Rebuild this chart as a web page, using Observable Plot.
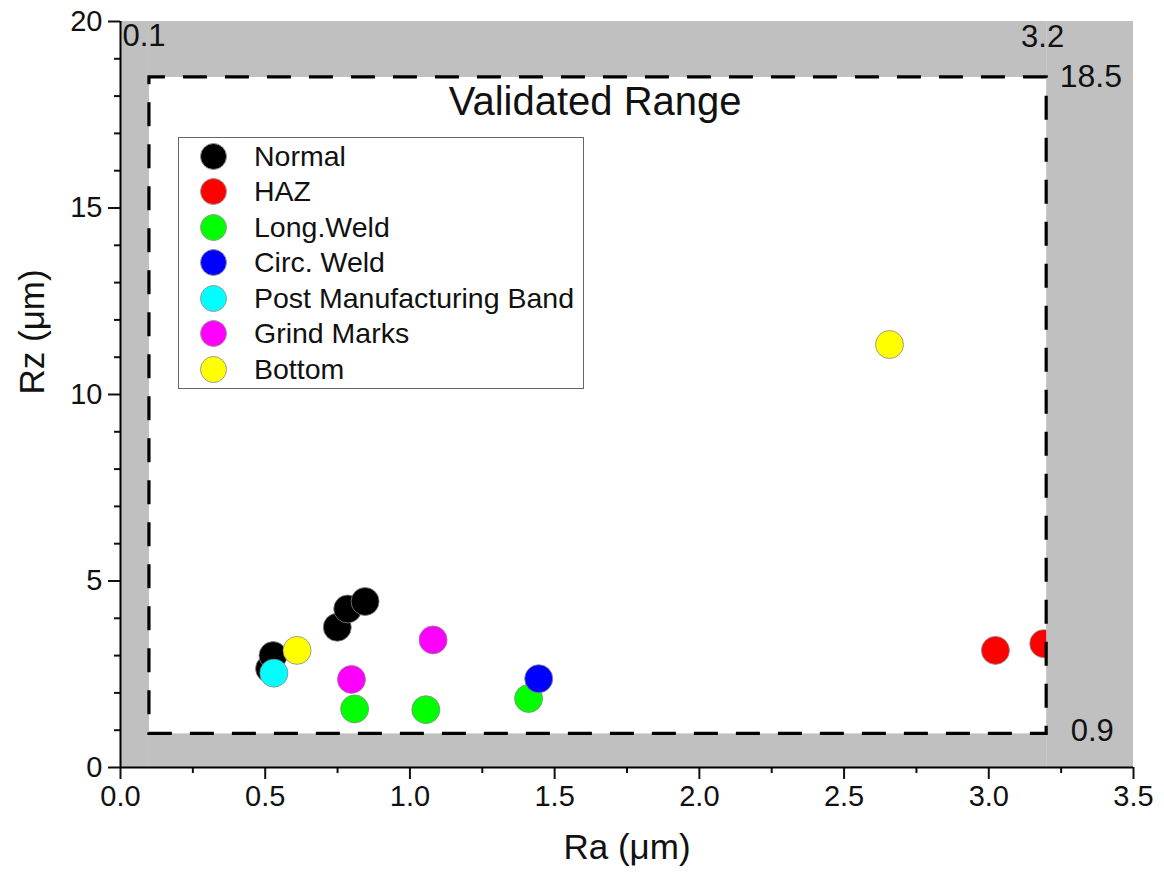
<!DOCTYPE html>
<html>
<head>
<meta charset="utf-8">
<script src="https://cdn.jsdelivr.net/npm/d3@7"></script>
<script src="https://cdn.jsdelivr.net/npm/@observablehq/plot@0.6"></script>
<style>
  body { margin: 0; background: #fff; font-family: "Liberation Sans", Arial, sans-serif; }
  #wrap { position: relative; width: 1164px; height: 894px; }
  #legend { position: absolute; left: 178px; top: 137px; width: 406px; height: 252px; border: 1px solid #666; background: #fff; box-sizing: border-box; }
  .row { position: absolute; left: 0; height: 32px; display: flex; align-items: center; }
  .sw { width: 27px; height: 27px; border-radius: 50%; box-sizing: border-box; border: 1px solid #999; margin-left: 21px; }
  .lb { margin-left: 27px; font-size: 28.5px; color: #111; white-space: nowrap; }
</style>
</head>
<body>
<div id="wrap"><div id="chart"></div><div id="legend"></div></div>
<script>
// ---- data ----
const categories = ["Normal", "HAZ", "Long.Weld", "Circ. Weld", "Post Manufacturing Band", "Grind Marks", "Bottom"];
const colors = ["#000000", "#ff0000", "#00ff00", "#0000ff", "#00ffff", "#ff00ff", "#ffff00"];
const pointGroup = ["Normal", "Normal", "Normal", "Normal", "Normal",
                    "HAZ", "HAZ",
                    "Long.Weld", "Long.Weld", "Long.Weld",
                    "Circ. Weld",
                    "Post Manufacturing Band",
                    "Grind Marks", "Grind Marks",
                    "Bottom", "Bottom"];
const raValues = [0.515, 0.527, 0.749, 0.785, 0.845,
                  3.023, 3.19,
                  0.809, 1.055, 1.41,
                  1.445,
                  0.53,
                  0.798, 1.08,
                  0.61, 2.657];
const rzValues = [2.65, 3.0, 3.76, 4.25, 4.45,
                  3.14, 3.32,
                  1.57, 1.55, 1.85,
                  2.38,
                  2.53,
                  2.36, 3.42,
                  3.14, 11.34];
const xDomain = [0, 3.5];
const yDomain = [0, 20];
const validRa = [0.1, 3.2];
const validRz = [0.9, 18.5];
const xTicks = [0, 0.5, 1.0, 1.5, 2.0, 2.5, 3.0, 3.5];
const xMinorTicks = [0.25, 0.75, 1.25, 1.75, 2.25, 2.75, 3.25];
const yTicks = [0, 5, 10, 15, 20];
const yMinorTicks = [1, 2, 3, 4, 6, 7, 8, 9, 11, 12, 13, 14, 16, 17, 18, 19];

// ---- build table ----
const points = raValues.map((ra, i) => ({ra, rz: rzValues[i], group: pointGroup[i], order: categories.indexOf(pointGroup[i])}))
  .sort((a, b) => a.order - b.order);

const grayBands = [
  {x1: xDomain[0], x2: validRa[0], y1: yDomain[0], y2: yDomain[1]},
  {x1: validRa[1], x2: xDomain[1], y1: yDomain[0], y2: yDomain[1]},
  {x1: validRa[0], x2: validRa[1], y1: yDomain[0], y2: validRz[0]},
  {x1: validRa[0], x2: validRa[1], y1: validRz[1], y2: yDomain[1]}
];
const validBox = [{x1: validRa[0], x2: validRa[1], y1: validRz[0], y2: validRz[1]}];

const font = "Liberation Sans, Arial, sans-serif";

const chart = Plot.plot({
  width: 1164,
  height: 894,
  marginLeft: 120,
  marginRight: 31,
  marginTop: 21,
  marginBottom: 127,
  style: {fontFamily: font, fontSize: "29px", background: "#fff", color: "#111"},
  x: {domain: xDomain},
  y: {domain: yDomain},
  color: {domain: categories, range: colors},
  marks: [
    Plot.dot(points, {x: "ra", y: "rz", fill: "group", r: 14, stroke: "#888", strokeWidth: 0.8}),
    Plot.rect(grayBands, {x1: "x1", x2: "x2", y1: "y1", y2: "y2", fill: "#c0c0c0"}),
    Plot.rect(validBox, {x1: "x1", x2: "x2", y1: "y1", y2: "y2", fill: "none", stroke: "#000", strokeWidth: 3.2, strokeDasharray: "24,18", strokeDashoffset: 8}),
    Plot.text(["Validated Range"], {x: 1.64, y: validRz[1], lineAnchor: "top", dy: 9, fontSize: 40, fill: "#111"}),
    Plot.text([String(validRa[0])], {x: xDomain[0], y: yDomain[1], textAnchor: "start", lineAnchor: "top", dx: 2, dy: 2, fontSize: 31, fill: "#111"}),
    Plot.text([String(validRa[1])], {x: validRa[1], y: yDomain[1], textAnchor: "middle", lineAnchor: "top", dx: -4, dy: 3, fontSize: 31, fill: "#111"}),
    Plot.text([String(validRz[1])], {x: validRa[1], y: validRz[1], textAnchor: "start", lineAnchor: "middle", dx: 13, dy: -1, fontSize: 32, fill: "#111"}),
    Plot.text([String(validRz[0])], {x: validRa[1], y: validRz[0], textAnchor: "start", lineAnchor: "middle", dx: 24, dy: -3, fontSize: 31, fill: "#111"}),
    Plot.axisX({ticks: xTicks, tickFormat: d3.format(".1f"), tickSize: 12, tickPadding: 6, strokeWidth: 2, label: null, fontSize: 29}),
    Plot.axisX({ticks: xMinorTicks, tickFormat: () => "", tickSize: 6, strokeWidth: 2, label: null}),
    Plot.axisY({ticks: yTicks, tickFormat: d3.format("d"), tickSize: 12, tickPadding: 6, strokeWidth: 2, label: null, fontSize: 29}),
    Plot.axisY({ticks: yMinorTicks, tickFormat: () => "", tickSize: 6, strokeWidth: 2, label: null}),
    Plot.ruleX([xDomain[0]], {stroke: "#000", strokeWidth: 2}),
    Plot.ruleY([yDomain[0]], {stroke: "#000", strokeWidth: 2}),
    Plot.text(["Ra (μm)"], {frameAnchor: "bottom", dy: 91, fontSize: 35, fill: "#111"}),
    Plot.text(["Rz (μm)"], {frameAnchor: "left", dx: -88, rotate: -90, fontSize: 35, fill: "#111"})
  ]
});
document.getElementById("chart").appendChild(chart);

// legend
const legend = document.getElementById("legend");
categories.forEach((c, i) => {
  const row = document.createElement("div");
  row.className = "row";
  row.style.top = (2 + i * 35.5) + "px";
  const sw = document.createElement("div");
  sw.className = "sw";
  sw.style.background = colors[i];
  const lb = document.createElement("div");
  lb.className = "lb";
  lb.textContent = c;
  row.appendChild(sw);
  row.appendChild(lb);
  legend.appendChild(row);
});
</script>
</body>
</html>
